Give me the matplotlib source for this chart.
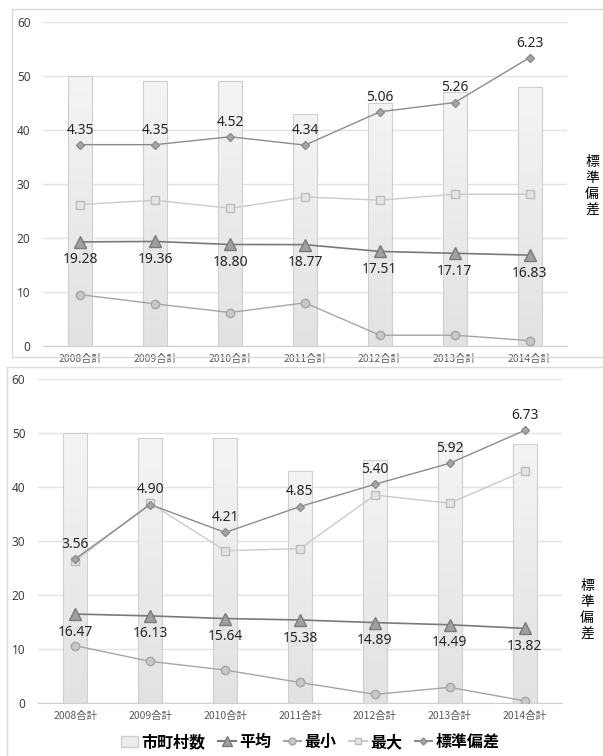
import matplotlib
matplotlib.use("Agg")
import matplotlib.pyplot as plt
import numpy as np
from matplotlib.patches import Rectangle
from matplotlib.lines import Line2D
from matplotlib.patches import Patch

plt.rcParams['font.family'] = ['Noto Sans', 'Noto Sans CJK JP', 'DejaVu Sans']

# data
years = ['2008合計', '2009合計', '2010合計', '2011合計', '2012合計', '2013合計', '2014合計']

# upper chart
count_1 = [50, 49, 49, 43, 45, 47, 48]
mean_1 = [19.28, 19.36, 18.80, 18.77, 17.51, 17.17, 16.83]
min_1 = [9.5, 7.8, 6.2, 8.0, 2.0, 2.0, 1.0]
max_1 = [26.2, 27.0, 25.5, 27.6, 27.0, 28.1, 28.1]
sd_1 = [4.35, 4.35, 4.52, 4.34, 5.06, 5.26, 6.23]

# lower chart
count_2 = [50, 49, 49, 43, 45, 48, 48]
mean_2 = [16.47, 16.13, 15.64, 15.38, 14.89, 14.49, 13.82]
min_2 = [10.6, 7.7, 6.1, 3.8, 1.6, 2.9, 0.4]
max_2 = [26.3, 37.0, 28.2, 28.6, 38.5, 37.0, 43.0]
sd_2 = [3.56, 4.90, 4.21, 4.85, 5.40, 5.92, 6.73]

JP = ['Noto Sans CJK JP', 'DejaVu Sans']

fig = plt.figure(figsize=(6.03, 7.56), dpi=100)

# panel frames
fig.patches.append(Rectangle((12/603, 1-357/756), 600/603, 348/756, transform=fig.transFigure,
                             fill=False, edgecolor='#d9d9d9', lw=1))
fig.patches.append(Rectangle((7/603, -0.01), 600/603, 1-367/756+0.01, transform=fig.transFigure,
                             fill=False, edgecolor='#d9d9d9', lw=1))

grad = np.linspace(0, 1, 100).reshape(-1, 1)
cmap = matplotlib.colors.LinearSegmentedColormap.from_list('g', ['#f4f4f4', '#e2e2e2'])


def draw_panel(ax, counts, mean, mn, mx, sd, sd_max):
    x = np.arange(len(years))
    bars = ax.bar(x, counts, width=0.32, color='none', edgecolor='#cfcfcf', lw=0.8, zorder=2)
    for b in bars:
        x0 = b.get_x()
        im = ax.imshow(grad, extent=[x0, x0 + b.get_width(), 0, b.get_height()],
                       aspect='auto', cmap=cmap, zorder=1)
        im.set_clip_path(b)
    ax.plot(x, mn, color='#a5a5a5', lw=1, marker='o', ms=6, mfc='#c8c8c8', mec='#a5a5a5', zorder=3)
    ax.plot(x, mx, color='#cbcbcb', lw=1, marker='s', ms=6, mfc='#e4e4e4', mec='#bdbdbd', zorder=3)
    ax.plot(x, mean, color='#7a7a7a', lw=1.2, marker='^', ms=9, mfc='#a0a0a0', mec='#7a7a7a', zorder=4)
    for xi, v in zip(x, mean):
        ax.annotate(f'{v:.2f}', (xi, v), xytext=(0, -13), textcoords='offset points',
                    ha='center', va='center', fontsize=10, color='#262626', zorder=6)
    ax.set_xlim(-0.5, len(years) - 0.5)
    ax.set_ylim(0, 60)
    ax.set_yticks(range(0, 61, 10))
    ax.yaxis.grid(True, color='#e3e3e3', lw=1)
    ax.set_axisbelow(True)
    for s in ['top', 'right', 'left']:
        ax.spines[s].set_visible(False)
    ax.spines['bottom'].set_color('#d0d0d0')
    ax.tick_params(axis='y', length=0, labelsize=8.5, labelcolor='#404040', pad=9)
    ax.tick_params(axis='x', length=0, labelsize=7.5, labelcolor='#595959', pad=6)
    ax.set_xticks(x)
    ax.set_xticklabels(years, family=JP)

    ax2 = ax.twinx()
    ax2.plot(x, sd, color='#8c8c8c', lw=1, marker='D', ms=4.5, mfc='#a6a6a6', mec='#8c8c8c', zorder=5)
    for xi, v in zip(x, sd):
        ax2.annotate(f'{v:.2f}', (xi, v), xytext=(0, 10.5), textcoords='offset points',
                     ha='center', va='center', fontsize=10, color='#262626')
    ax2.set_ylim(0, sd_max)
    ax2.set_yticks([])
    for s in ax2.spines.values():
        s.set_visible(False)


ax_top = fig.add_axes([43/603, 1-346/756, 524/603, 324/756])
draw_panel(ax_top, count_1, mean_1, min_1, max_1, sd_1, 7)
ax_bot = fig.add_axes([38/603, 1-703/756, 524/603, 324/756])
draw_panel(ax_bot, count_2, mean_2, min_2, max_2, sd_2, 8)

# right-hand axis title
fig.text(592/603, 1-186/756, '標\n準\n偏\n差', ha='center', va='center', fontsize=10,
         family=JP, linespacing=1.2)
fig.text(587/603, 1-610/756, '標\n準\n偏\n差', ha='center', va='center', fontsize=10,
         family=JP, linespacing=1.2)

handles = [
    Patch(facecolor='#ececec', edgecolor='#cfcfcf'),
    Line2D([], [], color='#7a7a7a', marker='^', ms=7, mfc='#a0a0a0', mec='#7a7a7a'),
    Line2D([], [], color='#a5a5a5', marker='o', ms=5, mfc='#c8c8c8', mec='#a5a5a5'),
    Line2D([], [], color='#cbcbcb', marker='s', ms=5, mfc='#e4e4e4', mec='#bdbdbd'),
    Line2D([], [], color='#8c8c8c', marker='D', ms=3.5, mfc='#a6a6a6', mec='#8c8c8c'),
]
labels = ['市町村数', '平均', '最小', '最大', '標準偏差']
fig.legend(handles, labels, loc='center', bbox_to_anchor=(310/603, 1-742/756), ncol=5,
           frameon=False, prop={'family': JP, 'size': 11.5, 'weight': 'bold'},
           handlelength=1.1, handletextpad=0.2, columnspacing=0.8)

fig.savefig('out.png', dpi=100, facecolor='white')
